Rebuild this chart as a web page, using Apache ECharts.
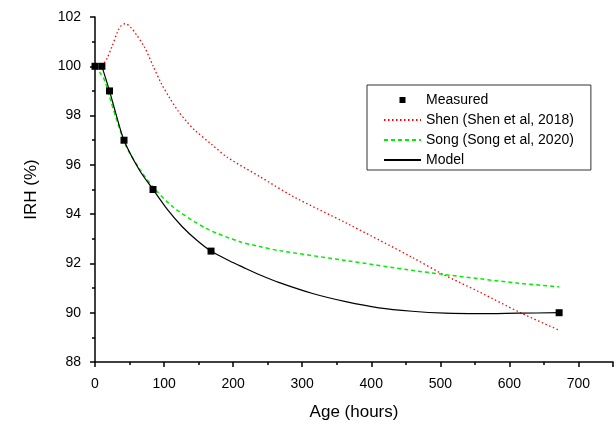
<!DOCTYPE html>
<html>
<head>
<meta charset="utf-8">
<script src="https://cdn.jsdelivr.net/npm/echarts@6/dist/echarts.min.js"></script>
<style>
    html, body { margin: 0; padding: 0; background: #fff; }
    #main { width: 616px; height: 426px; }
</style>
</head>
<body>
<div id="main"></div>
<script>
// 实测
var measuredX = [0, 10, 21, 42, 84, 168, 672];
var measuredY = [100, 100, 99, 97, 95, 92.5, 90];

// Shen et al, 2018
var shenX = [10, 17, 24, 33, 38, 44, 52, 60, 72, 84, 96, 108, 120, 132, 144, 168, 192, 240, 288, 363, 459, 503, 556, 616, 672];
var shenY = [100, 100.3, 100.76, 101.42, 101.65, 101.73, 101.57, 101.28, 100.76, 100.02, 99.3, 98.72, 98.2, 97.78, 97.42, 96.85, 96.3, 95.5, 94.7, 93.65, 92.25, 91.57, 90.85, 90.0, 89.29];

// Song et al, 2020
var songX = [0, 7, 14, 21, 33, 45, 65, 84, 113, 161, 209, 238, 267, 363, 459, 503, 556, 613, 672];
var songY = [100, 99.75, 99.42, 98.76, 97.69, 96.76, 95.82, 95.1, 94.29, 93.42, 92.89, 92.69, 92.52, 92.12, 91.72, 91.56, 91.38, 91.2, 91.05];

// Model
var modelX = [10, 15, 21, 30, 42, 64, 84, 105, 126, 147, 168, 195, 214, 240, 267, 315, 363, 411, 459, 507, 556, 613, 672];
var modelY = [100, 99.55, 99.0, 98.1, 97.0, 95.8, 95.0, 94.18, 93.5, 92.95, 92.5, 92.1, 91.85, 91.52, 91.22, 90.78, 90.45, 90.2, 90.06, 89.98, 89.96, 89.98, 90.0];

function pairs(xs, ys) {
    var out = [];
    for (var i = 0; i < xs.length; i++) {
        out.push([xs[i], ys[i]]);
    }
    return out;
}

var font = 'Liberation Sans, Arial, sans-serif';
var noSymbol = { opacity: 0 };
var chart = echarts.init(document.getElementById('main'));
var option = {
    animation: false,
    backgroundColor: '#fff',
    textStyle: { fontFamily: font },
    grid: {
        left: 95,
        right: 1,
        top: 17,
        bottom: 59
    },
    legend: {
        orient: 'vertical',
        left: 367,
        top: 85,
        padding: [8, 17, 3, 16],
        itemWidth: 37,
        itemHeight: 6,
        itemGap: 6,
        borderColor: '#333',
        borderWidth: 1,
        borderRadius: 0,
        textStyle: { fontSize: 14, color: '#000', fontFamily: font, lineHeight: 14 },
        data: [
            { name: 'Measured', icon: 'path://M0,0H10V10H0Z' },
            { name: 'Shen (Shen et al, 2018)', itemStyle: noSymbol },
            { name: 'Song (Song et al, 2020)', itemStyle: noSymbol },
            { name: 'Model', itemStyle: noSymbol }
        ]
    },
    xAxis: {
        type: 'value',
        min: 0,
        max: 750,
        interval: 100,
        name: 'Age (hours)',
        nameLocation: 'middle',
        nameGap: 42,
        nameTextStyle: { fontSize: 17, color: '#000', fontFamily: font },
        axisLine: { lineStyle: { color: '#000', width: 1.5 } },
        axisTick: { inside: false, length: 5, lineStyle: { color: '#000', width: 1.5 } },
        minorTick: { show: true, splitNumber: 2, length: 3, lineStyle: { color: '#000', width: 1.5 } },
        axisLabel: {
            fontSize: 14, color: '#000', margin: 15, fontFamily: font,
            formatter: function (v) { return v > 700 ? '' : v; }
        },
        splitLine: { show: false }
    },
    yAxis: {
        type: 'value',
        min: 88,
        max: 102,
        interval: 2,
        name: 'IRH (%)',
        nameLocation: 'middle',
        nameGap: 55,
        nameTextStyle: { fontSize: 17, color: '#000', fontFamily: font },
        axisLine: { lineStyle: { color: '#000', width: 1.5 } },
        axisTick: { inside: false, length: 5, lineStyle: { color: '#000', width: 1.5 } },
        minorTick: { show: true, splitNumber: 2, length: 3, lineStyle: { color: '#000', width: 1.5 } },
        axisLabel: { fontSize: 14, color: '#000', margin: 14, fontFamily: font },
        splitLine: { show: false }
    },
    series: [
        {
            name: 'Shen (Shen et al, 2018)',
            type: 'line',
            smooth: 0.3,
            symbol: 'none',
            color: '#ff0000',
            lineStyle: { color: '#ff0000', width: 1.3, type: [1.5, 2.5] },
            data: pairs(shenX, shenY)
        },
        {
            name: 'Song (Song et al, 2020)',
            type: 'line',
            smooth: 0.3,
            symbol: 'none',
            color: '#00ee00',
            lineStyle: { color: '#00ee00', width: 1.5, type: [4, 3] },
            data: pairs(songX, songY)
        },
        {
            name: 'Model',
            type: 'line',
            smooth: 0.3,
            symbol: 'none',
            color: '#000',
            lineStyle: { color: '#000', width: 1.2 },
            data: pairs(modelX, modelY)
        },
        {
            name: 'Measured',
            type: 'scatter',
            symbol: 'rect',
            symbolSize: 7,
            z: 5,
            itemStyle: { color: '#000', opacity: 1 },
            data: pairs(measuredX, measuredY)
        }
    ]
};
chart.setOption(option);
</script>
</body>
</html>
